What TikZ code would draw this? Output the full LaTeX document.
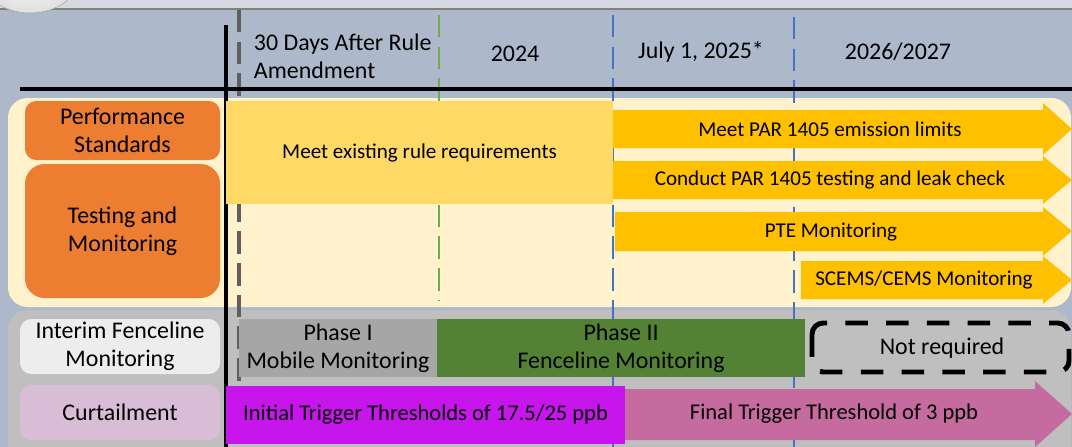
\documentclass[tikz,border=0pt]{standalone}
\usepackage{fontspec}
\setmainfont{Carlito}
\usetikzlibrary{arrows.meta}
\definecolor{slatebg}{RGB}{173,185,202}
\definecolor{stripbg}{RGB}{214,218,224}
\definecolor{creambg}{RGB}{255,242,204}
\definecolor{panelgrey}{RGB}{191,191,191}
\definecolor{rowgrey}{RGB}{237,237,237}
\definecolor{curtbg}{RGB}{217,189,214}
\definecolor{orangebox}{RGB}{237,125,49}
\definecolor{lightyellow}{RGB}{255,217,102}
\definecolor{amber}{RGB}{255,192,0}
\definecolor{phaseone}{RGB}{166,166,166}
\definecolor{phasetwo}{RGB}{84,130,53}
\definecolor{magentabox}{RGB}{199,22,236}
\definecolor{pinkarrow}{RGB}{198,107,160}
\definecolor{dashgrey}{RGB}{95,95,95}
\definecolor{dashgreen}{RGB}{112,173,71}
\definecolor{dashblue}{RGB}{68,114,196}

\begin{document}
\begin{tikzpicture}[x=0.025cm, y=-0.025cm, font=\fontsize{17}{20}\selectfont,
  box/.style={inner sep=0pt, outer sep=0pt, anchor=north west, align=center},
  bartext/.style={font=\fontsize{15}{18}\selectfont},
  curttext/.style={font=\fontsize{16}{19}\selectfont},
  milestone/.style={dash pattern=on 16pt off 6.5pt, line width=1.7pt}]
  \useasboundingbox (0,0) rectangle (1072,447);
  \clip (0,0) rectangle (1072,447);
  \fill[slatebg] (0,0) rectangle (1072,447);
  % top strip and corner knob
  \fill[stripbg] (0,0) rectangle (1072,9);
  \draw[gray, line width=1pt] (0,9) -- (1072,9);
  \shade[inner color=white, outer color=gray!25, draw=gray!70] (30,-25) ellipse [x radius=1.25cm, y radius=0.95cm];

  % panels
  \fill[creambg, rounded corners=14pt] (8,98) rectangle (1071,307);
  \fill[panelgrey, rounded corners=14pt] (8,310) rectangle (1071,470);

  % milestone lines
  \draw[milestone, dashgrey, line width=2.2pt] (239,10) -- (239,447);
  \draw[milestone, dashgreen] (439,15) -- (439,300);
  \draw[milestone, dashblue] (613,15) -- (613,447);
  \draw[milestone, dashblue] (794,17) -- (794,447);

  % timeline axes
  \draw[line width=3.5pt] (20,89) -- (1072,89);
  \draw[line width=3pt] (226,25) -- (226,447);

  % header dates
  \node[anchor=west, align=left] (h1) at (249,56) {30 Days After Rule\\Amendment};
  \node (h2) at (515,54) {2024};
  \node (h3) at (701,52) {July 1, 2025*};
  \node (h4) at (898,52) {2026/2027};

  % row labels
  \node[box, fill=orangebox, rounded corners=8pt, minimum width=4.875cm, minimum height=1.475cm] (perf) at (25,101) {Performance\\Standards};
  \node[box, fill=orangebox, rounded corners=14pt, minimum width=4.875cm, minimum height=3.35cm] (test) at (25,164) {Testing and\\Monitoring};
  \node[box, fill=rowgrey, rounded corners=8pt, minimum width=5cm, minimum height=1.375cm] (fence) at (20,319) {Interim Fenceline\\Monitoring};
  \node[box, fill=curtbg, rounded corners=8pt, minimum width=5cm, minimum height=1.375cm] (curt) at (20,385) {Curtailment};

  % performance and testing bars
  \node[box, bartext, fill=lightyellow, minimum width=9.675cm, minimum height=2.575cm] (exist) at (226,101) {Meet existing rule requirements};
  \fill[amber] (613,110) -- (1043,110) -- (1043,103) -- (1072,129) -- (1043,155) -- (1043,148) -- (613,148) -- cycle;
  \node[bartext] (limits) at (830,129) {Meet PAR 1405 emission limits};
  \fill[amber] (613,161) -- (1043,161) -- (1043,156) -- (1072,180) -- (1043,204) -- (1043,199) -- (613,199) -- cycle;
  \node[bartext] (leak) at (830,180) {Conduct PAR 1405 testing and leak check};
  \fill[amber] (615,212) -- (1043,212) -- (1043,207) -- (1072,231) -- (1043,256) -- (1043,251) -- (615,251) -- cycle;
  \node[bartext] (pte) at (831,232) {PTE Monitoring};
  \fill[amber] (801,261) -- (1043,261) -- (1043,256) -- (1072,280) -- (1043,304) -- (1043,299) -- (801,299) -- cycle;
  \node[bartext] (cems) at (924,280) {SCEMS/CEMS Monitoring};

  % fenceline phases
  \node[box, fill=phaseone, minimum width=4.95cm, minimum height=1.45cm] (ph1) at (239,319) {Phase I\\Mobile Monitoring};
  \node[box, fill=phasetwo, minimum width=9.2cm, minimum height=1.45cm] (ph2) at (437,319) {Phase II\\Fenceline Monitoring};
  \draw[line width=3.5pt, dash pattern=on 16pt off 13pt, rounded corners=8pt] (812,323) rectangle (1069,372);
  \node (notreq) at (942,348) {Not required};

  % curtailment thresholds
  \node[box, curttext, fill=magentabox, minimum width=9.975cm, minimum height=1.45cm] (initial) at (226,386) {Initial Trigger Thresholds of 17.5/25 ppb};
  \fill[pinkarrow] (625,389) -- (1035,389) -- (1035,381) -- (1072,414) -- (1035,447) -- (1035,440) -- (625,440) -- cycle;
  \node[curttext] (final) at (834,414) {Final Trigger Threshold of 3 ppb};
\end{tikzpicture}
\end{document}
